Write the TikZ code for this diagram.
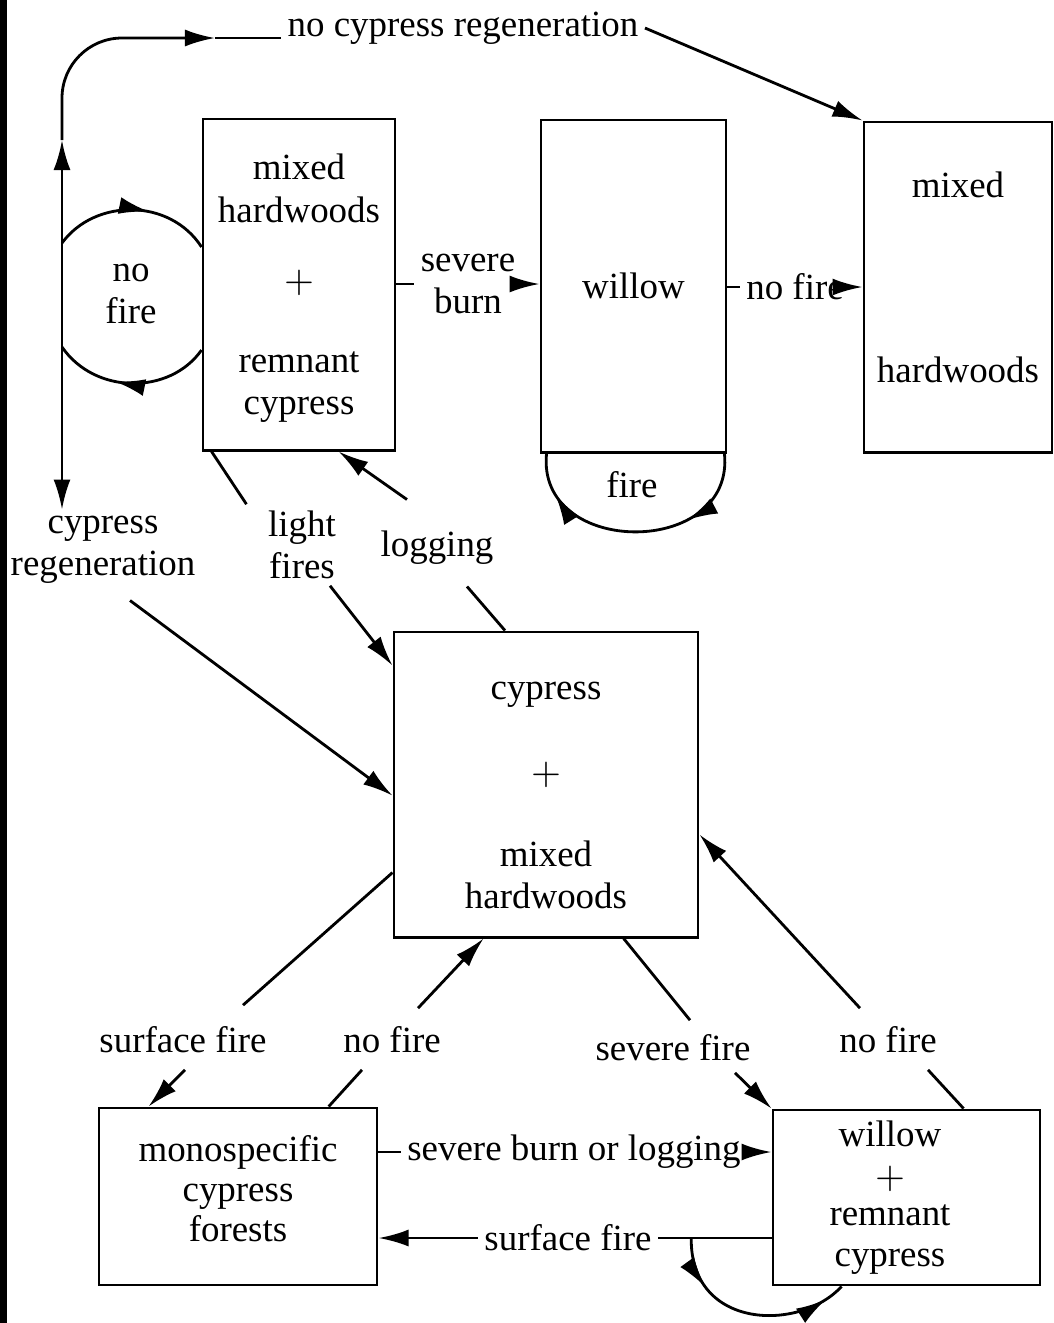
\documentclass[tikz,border=0pt]{standalone}
\usepackage{fontspec}
\setmainfont{Liberation Serif}
\usetikzlibrary{arrows.meta,decorations.markings}

\begin{document}
\begin{tikzpicture}[x=0.01cm,y=-0.01cm,line width=0.8pt,>={Latex[length=3mm,width=1.7mm]},
  font=\fontsize{10.5}{12}\selectfont,
  stand/.style={draw,inner sep=0pt},
  lbl/.style={align=center,inner sep=1.5pt},
  midarr/.style={postaction={decorate},decoration={markings,mark=at position #1 with {\arrow{>}}}},
  twoarr/.style 2 args={postaction={decorate},decoration={markings,mark=at position #1 with {\arrow{>}},mark=at position #2 with {\arrow{>}}}}]
  \useasboundingbox (0,0) rectangle (1054,1323);
  \fill (0,0) rectangle (7,1323);
  % ============ upper row of stands ============
  \node[stand,minimum width=1.92cm,minimum height=3.31cm] (mhrc) at (299,284.5) {};
  \node[lbl,yshift=-0.04cm] (mhrc-txt) at (mhrc) {mixed\\hardwoods\\[0.28cm]$+$\\[0.38cm]remnant\\cypress};
  \node[stand,minimum width=1.85cm,minimum height=3.32cm] (wil) at (633.5,286) {};
  \node[lbl] (wil-txt) at (wil) {willow};
  \node[stand,minimum width=1.88cm,minimum height=3.30cm] (mh) at (958,287) {};
  \node[lbl,yshift=0.1cm] (mh-txt) at (mh) {mixed\\[1.43cm]hardwoods};
  % ============ centre stand ============
  \node[stand,minimum width=3.04cm,minimum height=3.05cm] (cmh) at (546,784.5) {};
  \node[lbl,yshift=-0.11cm] (cmh-txt) at (cmh) {cypress\\[0.43cm]$+$\\[0.40cm]mixed\\hardwoods};
  % ============ lower row of stands ============
  \node[stand,minimum width=2.78cm,minimum height=1.77cm] (mono) at (238,1196.5) {};
  \node[lbl,yshift=0.08cm] (mono-txt) at (mono) {monospecific\\[-0.02cm]cypress\\[-0.02cm]forests};
  \node[stand,minimum width=2.67cm,minimum height=1.75cm] (wrc) at (906.5,1197.5) {};
  \node[lbl,xshift=-0.165cm] (wrc-txt) at (wrc) {willow\\$+$\\[-0.05cm]remnant\\[-0.02cm]cypress};
  % ---------- labels ----------
  \node[lbl] (ncr) at (463,28) {no cypress regeneration};
  \node[lbl] (creg) at (103,550) {cypress\\regeneration};
  \node[lbl] (nf1) at (131,294) {no\\fire};
  \node[lbl] (sb) at (468,284) {severe\\burn};
  \node[lbl] (nf2) at (795,287) {no fire};
  \node[lbl] (fi) at (632,485) {fire};
  \node[lbl] (lf) at (302,545) {light\\fires};
  \node[lbl] (lg) at (437,548) {logging};
  \node[lbl] (sf1) at (183,1040) {surface fire};
  \node[lbl] (nf3) at (392,1040) {no fire};
  \node[lbl] (svf) at (673,1048) {severe fire};
  \node[lbl] (nf4) at (888,1040) {no fire};
  \node[lbl] (sbl) at (574,1152) {severe burn or logging};
  \node[lbl] (sf2) at (568,1238) {surface fire};
  % ---------- left line: regeneration or not ----------
  \coordinate (split) at (62,295);
  \coordinate (upt) at (62,140);
  \coordinate (rgt) at (215,38);
  \coordinate (jt) at (62,243);
  \coordinate (jb) at (62,347);
  \draw[->] (split) -- (upt);
  \draw[->,rounded corners=0.6cm] (upt) |- (rgt);
  \draw (rgt) -- (rgt -| ncr.west);
  \draw[->] (ncr.east) -- (mh.north west);
  \draw[->] (split) -- (split |- creg.north);
  \draw[midarr=0.6] (jt) .. controls (95,198) and (170,198) .. ([yshift=0.375cm]mhrc.west);
  \draw[midarr=0.6] ([yshift=-0.655cm]mhrc.west) .. controls (170,395) and (95,395) .. (jb);
  % ---------- upper row transitions ----------
  \draw (mhrc.east |- sb.west) -- (sb.west);
  \draw[->] (sb.east) -- (wil.west |- sb.east);
  \draw (wil.east |- nf2) -- (nf2.west);
  \draw[->] (nf2.east) -- (mh.west |- nf2.east);
  \draw[twoarr={0.3}{0.84}] ([xshift=-0.03cm]wil.south east) .. controls (735,558) and (536,558) .. ([xshift=0.07cm]wil.south west);
  % ---------- to and from the centre ----------
  \draw ([xshift=0.1cm]mhrc.south west) -- ([xshift=-0.15cm]lf.north west);
  \draw[->] ([xshift=0.28cm]lf.south) -- ([yshift=-0.35cm]cmh.north west);
  \draw ([xshift=-0.41cm]cmh.north) -- ([xshift=0.3cm,yshift=-0.15cm]lg.south);
  \draw[->] ([xshift=-0.3cm,yshift=0.25cm]lg.north) -- ([xshift=1.37cm]mhrc.south west);
  \draw[->] ([xshift=0.27cm,yshift=-0.1cm]creg.south) -- ([yshift=-1.65cm]cmh.north west);
  \draw ([yshift=-0.88cm]cmh.west) -- ([xshift=0.6cm,yshift=0.15cm]sf1.north);
  \draw[->] ([xshift=0.02cm,yshift=-0.1cm]sf1.south) -- ([xshift=0.51cm]mono.north west);
  \draw ([xshift=2.31cm]mono.north west) -- ([xshift=-0.3cm,yshift=-0.1cm]nf3.south);
  \draw[->] ([xshift=0.26cm,yshift=0.12cm]nf3.north) -- ([xshift=0.91cm]cmh.south west);
  \draw ([xshift=2.31cm]cmh.south west) -- ([xshift=0.17cm,yshift=0.08cm]svf.north);
  \draw[->] ([xshift=0.62cm,yshift=-0.05cm]svf.south) -- (wrc.north west);
  \draw ([xshift=1.92cm]wrc.north west) -- ([xshift=0.4cm,yshift=-0.1cm]nf4.south);
  \draw[->] ([xshift=-0.28cm,yshift=0.12cm]nf4.north) -- ([yshift=-0.5cm]cmh.east);
  % ---------- lower row transitions ----------
  \draw (mono.east |- sbl) -- (sbl.west);
  \draw[->] (sbl.east) -- (wrc.west |- sbl.east);
  \draw (wrc.west |- sf2) -- (sf2.east);
  \draw[->] (sf2.west) -- (mono.east |- sf2.west);
  \draw[twoarr={0.25}{0.9}] ([xshift=0.33cm]sf2.east) .. controls (690,1330) and (800,1332) .. ([xshift=0.7cm]wrc.south west);
\end{tikzpicture}
\end{document}
